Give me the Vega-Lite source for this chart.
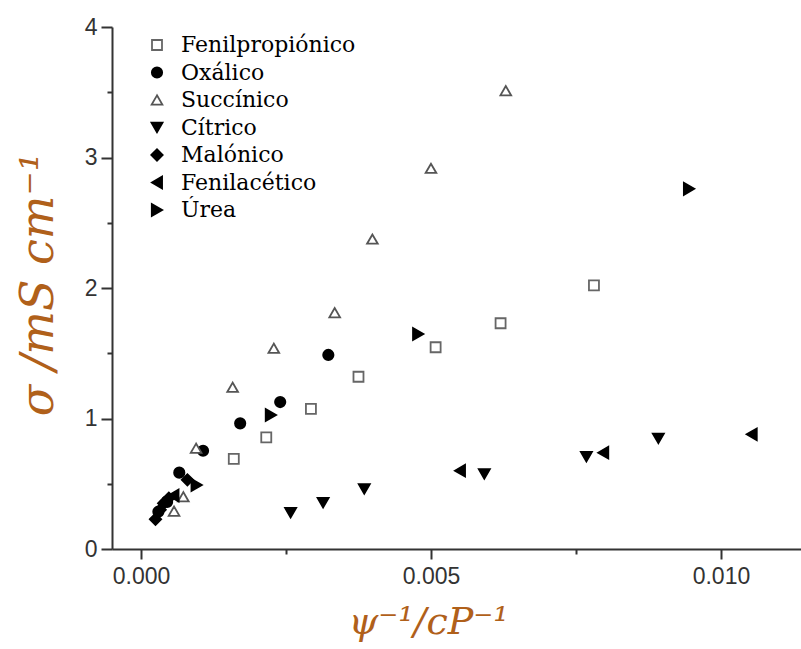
{
  "$schema": "https://vega.github.io/schema/vega-lite/v6.json",
  "width": 689,
  "height": 522,
  "autosize": {"type": "none"},
  "padding": {"left": 112, "top": 27, "right": 0, "bottom": 100},
  "background": "white",
  "config": {"view": {"stroke": null}},
  "data": {
    "values": [
      {"acid": "Fenilpropiónico", "x": 0.00160, "y": 0.69},
      {"acid": "Fenilpropiónico", "x": 0.00216, "y": 0.856},
      {"acid": "Fenilpropiónico", "x": 0.00293, "y": 1.073},
      {"acid": "Fenilpropiónico", "x": 0.00375, "y": 1.32},
      {"acid": "Fenilpropiónico", "x": 0.00508, "y": 1.546},
      {"acid": "Fenilpropiónico", "x": 0.00620, "y": 1.73},
      {"acid": "Fenilpropiónico", "x": 0.00781, "y": 2.02},
      {"acid": "Oxálico", "x": 0.00030, "y": 0.286},
      {"acid": "Oxálico", "x": 0.00045, "y": 0.36},
      {"acid": "Oxálico", "x": 0.00066, "y": 0.585},
      {"acid": "Oxálico", "x": 0.00107, "y": 0.753},
      {"acid": "Oxálico", "x": 0.00171, "y": 0.963},
      {"acid": "Oxálico", "x": 0.00240, "y": 1.126},
      {"acid": "Oxálico", "x": 0.00323, "y": 1.487},
      {"acid": "Succínico", "x": 0.00057, "y": 0.29},
      {"acid": "Succínico", "x": 0.00073, "y": 0.40},
      {"acid": "Succínico", "x": 0.00095, "y": 0.772},
      {"acid": "Succínico", "x": 0.00158, "y": 1.239},
      {"acid": "Succínico", "x": 0.00229, "y": 1.538},
      {"acid": "Succínico", "x": 0.00334, "y": 1.811},
      {"acid": "Succínico", "x": 0.00399, "y": 2.375},
      {"acid": "Succínico", "x": 0.00500, "y": 2.917},
      {"acid": "Succínico", "x": 0.00629, "y": 3.512},
      {"acid": "Cítrico", "x": 0.00258, "y": 0.278},
      {"acid": "Cítrico", "x": 0.00314, "y": 0.355},
      {"acid": "Cítrico", "x": 0.00385, "y": 0.46},
      {"acid": "Cítrico", "x": 0.00592, "y": 0.575},
      {"acid": "Cítrico", "x": 0.00768, "y": 0.707},
      {"acid": "Cítrico", "x": 0.00892, "y": 0.848},
      {"acid": "Malónico", "x": 0.00025, "y": 0.228},
      {"acid": "Malónico", "x": 0.00033, "y": 0.30},
      {"acid": "Malónico", "x": 0.00039, "y": 0.35},
      {"acid": "Malónico", "x": 0.00048, "y": 0.39},
      {"acid": "Malónico", "x": 0.00080, "y": 0.53},
      {"acid": "Fenilacético", "x": 0.00056, "y": 0.41},
      {"acid": "Fenilacético", "x": 0.00550, "y": 0.60},
      {"acid": "Fenilacético", "x": 0.00797, "y": 0.738},
      {"acid": "Fenilacético", "x": 0.01053, "y": 0.879},
      {"acid": "Úrea", "x": 0.00096, "y": 0.49},
      {"acid": "Úrea", "x": 0.00224, "y": 1.027},
      {"acid": "Úrea", "x": 0.00478, "y": 1.648},
      {"acid": "Úrea", "x": 0.00945, "y": 2.76}
    ]
  },
  "mark": {"type": "point", "opacity": 1, "strokeWidth": 1.8},
  "encoding": {
    "x": {
      "field": "x",
      "type": "quantitative",
      "scale": {"domain": [-0.0005, 0.01138], "nice": false, "zero": false},
      "axis": {
        "values": [0, 0.0025, 0.005, 0.0075, 0.01],
        "labelExpr": "abs(datum.value*200 - round(datum.value*200)) < 0.000001 ? format(datum.value, '.3f') : ''",
        "tickSize": {"condition": {"test": "abs(datum.value*200 - round(datum.value*200)) < 0.000001", "value": 10}, "value": 5},
        "grid": false,
        "domainColor": "#333333",
        "domainWidth": 2,
        "tickColor": "#333333",
        "tickWidth": 2,
        "labelFont": "Liberation Sans",
        "labelFontSize": 23,
        "labelColor": "#333333",
        "labelPadding": 6,
        "labelFlush": false,
        "labelOverlap": false,
        "title": "ψ⁻¹/cP⁻¹",
        "titleFont": "DejaVu Serif",
        "titleFontStyle": "italic",
        "titleFontWeight": "normal",
        "titleFontSize": 38,
        "titleColor": "#B0601A",
        "titleX": 316,
        "titleY": 84,
        "titleAlign": "center",
        "titleBaseline": "alphabetic"
      }
    },
    "y": {
      "field": "y",
      "type": "quantitative",
      "scale": {"domain": [0, 4], "nice": false},
      "axis": {
        "values": [0, 0.5, 1, 1.5, 2, 2.5, 3, 3.5, 4],
        "labelExpr": "datum.value % 1 === 0 ? format(datum.value, 'd') : ''",
        "tickSize": {"condition": {"test": "datum.value % 1 === 0", "value": 11}, "value": 5},
        "grid": false,
        "domainColor": "#333333",
        "domainWidth": 2,
        "tickColor": "#333333",
        "tickWidth": 2,
        "labelFont": "Liberation Sans",
        "labelFontSize": 23,
        "labelColor": "#333333",
        "labelPadding": 4,
        "labelOverlap": false,
        "title": "σ /mS cm⁻¹",
        "titleFont": "DejaVu Serif",
        "titleFontStyle": "italic",
        "titleFontWeight": "normal",
        "titleFontSize": 46,
        "titleColor": "#B0601A",
        "titleAngle": -90,
        "titleX": -74,
        "titleY": 257,
        "titleAlign": "center",
        "titleBaseline": "middle"
      }
    },
    "shape": {
      "field": "acid",
      "type": "nominal",
      "scale": {
        "domain": ["Fenilpropiónico", "Oxálico", "Succínico", "Cítrico", "Malónico", "Fenilacético", "Úrea"],
        "range": ["square", "circle", "triangle-up", "triangle-down", "diamond", "triangle-left", "triangle-right"]
      },
      "legend": {"title": null, "orient": "none", "legendX": 34, "legendY": 7, "padding": 0, "labelFont": "DejaVu Serif", "labelFontSize": 22, "labelColor": "black", "labelLimit": 400, "rowPadding": 5.5, "labelOffset": 13, "symbolStrokeWidth": 1.8, "symbolOpacity": 1}
    },
    "fill": {
      "field": "acid",
      "type": "nominal",
      "scale": {
        "domain": ["Fenilpropiónico", "Oxálico", "Succínico", "Cítrico", "Malónico", "Fenilacético", "Úrea"],
        "range": ["white", "black", "white", "black", "black", "black", "black"]
      },
      "legend": {"title": null, "orient": "none", "legendX": 34, "legendY": 7, "padding": 0, "labelFont": "DejaVu Serif", "labelFontSize": 22, "labelColor": "black", "labelLimit": 400, "rowPadding": 5.5, "labelOffset": 13, "symbolStrokeWidth": 1.8, "symbolOpacity": 1}
    },
    "stroke": {
      "field": "acid",
      "type": "nominal",
      "scale": {
        "domain": ["Fenilpropiónico", "Oxálico", "Succínico", "Cítrico", "Malónico", "Fenilacético", "Úrea"],
        "range": ["#666666", "black", "#555555", "black", "black", "black", "black"]
      },
      "legend": {"title": null, "orient": "none", "legendX": 34, "legendY": 7, "padding": 0, "labelFont": "DejaVu Serif", "labelFontSize": 22, "labelColor": "black", "labelLimit": 400, "rowPadding": 5.5, "labelOffset": 13, "symbolStrokeWidth": 1.8, "symbolOpacity": 1}
    },
    "size": {
      "field": "acid",
      "type": "nominal",
      "scale": {
        "domain": ["Fenilpropiónico", "Oxálico", "Succínico", "Cítrico", "Malónico", "Fenilacético", "Úrea"],
        "range": [100, 144, 180, 160, 144, 169, 169]
      },
      "legend": {"title": null, "orient": "none", "legendX": 34, "legendY": 7, "padding": 0, "labelFont": "DejaVu Serif", "labelFontSize": 22, "labelColor": "black", "labelLimit": 400, "rowPadding": 5.5, "labelOffset": 13, "symbolStrokeWidth": 1.8, "symbolOpacity": 1}
    }
  }
}
